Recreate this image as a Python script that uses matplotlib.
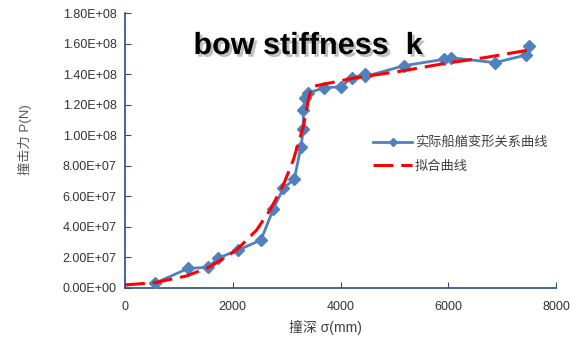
import matplotlib
matplotlib.use('Agg')
import matplotlib.pyplot as plt
import matplotlib.patheffects as pe
import numpy as np

plt.rcParams['font.family'] = ['Liberation Sans', 'Noto Sans CJK SC', 'DejaVu Sans']

# measured curve (depth mm, force N)
depth = [557, 1175, 1547, 1720, 2104, 2524, 2753, 2939, 3143, 3266, 3310, 3310,
         3341, 3403, 3700, 4009, 4207, 4454, 4460, 5178, 5921, 6045, 6867, 7443, 7505]
force = [3.1e6, 1.29e7, 1.35e7, 1.94e7, 2.49e7, 3.14e7, 5.17e7, 6.53e7, 7.13e7, 9.25e7,
         1.039e8, 1.165e8, 1.242e8, 1.278e8, 1.31e8, 1.318e8, 1.375e8, 1.40e8, 1.385e8,
         1.455e8, 1.497e8, 1.508e8, 1.475e8, 1.525e8, 1.586e8]

# fitted curve
fit_depth = [0, 557, 1145, 1578, 2073, 2444, 2691, 2939, 3124, 3310, 3403, 3465,
             4238, 5166, 5939, 6713, 7505]
fit_force = [2.0e6, 3.5e6, 7.9e6, 1.39e7, 2.49e7, 3.8e7, 5.1e7, 6.74e7, 8.38e7,
             1.056e8, 1.23e8, 1.318e8, 1.373e8, 1.422e8, 1.47e8, 1.51e8, 1.558e8]

xticks = [0, 2000, 4000, 6000, 8000]
yticks = np.arange(0, 1.8e8 + 1, 2e7)

fig = plt.figure(figsize=(5.7, 3.37), dpi=100)
ax = fig.add_axes([125/570, 1-288/337, 431/570, 275/337])

ax.plot(depth, force, color='#4F81BD', lw=2, marker='D', markersize=6,
        label='实际船艏变形关系曲线', zorder=3)
ax.plot(fit_depth, fit_force, color='#FF0000', lw=2.2, dashes=(6.5, 2.6),
        label='拟合曲线', zorder=4)

ax.set_xlim(0, 8000)
ax.set_ylim(0, 1.8e8)
ax.set_xticks(xticks)
ax.set_yticks(yticks)
ax.set_xticklabels([str(t) for t in xticks])
ax.set_yticklabels(['%.2fE+%02d' % (v / 10**(int(np.log10(v)) if v > 0 else 0),
                                    int(np.log10(v)) if v > 0 else 0) for v in yticks])
for s in ['top', 'right']:
    ax.spines[s].set_visible(False)
for s in ['left', 'bottom']:
    ax.spines[s].set_color('#2F4A7F')
    ax.spines[s].set_linewidth(1.2)
ax.tick_params(direction='in', length=4, color='#2F4A7F', labelsize=9,
               labelcolor='#333333')
ax.tick_params(axis='x', pad=9)
ax.tick_params(axis='y', pad=6)

fig.text(25/570, 1-140/337, '撞击力 P(N)', rotation=90, ha='center', va='center',
         fontsize=9.5, color='#595959')
fig.text(325/570, 1-327/337, '撞深 σ(mm)', ha='center', va='center',
         fontsize=10, color='#404040')

t = fig.text(308/570, 1-46/337, 'bow stiffness  k', ha='center', va='center',
             fontsize=22, fontweight='bold', color='black')
t.set_path_effects([pe.withSimplePatchShadow(offset=(2, -2), shadow_rgbFace='gray', alpha=0.5)])

ax.legend(loc='upper left', bbox_to_anchor=(361/570, 1-125/337),
          bbox_transform=fig.transFigure, frameon=False, fontsize=9.5,
          handlelength=3.0, handletextpad=0.2, labelspacing=0.8,
          markerscale=0.7, labelcolor='#404040')

fig.savefig('out.png', dpi=100)
